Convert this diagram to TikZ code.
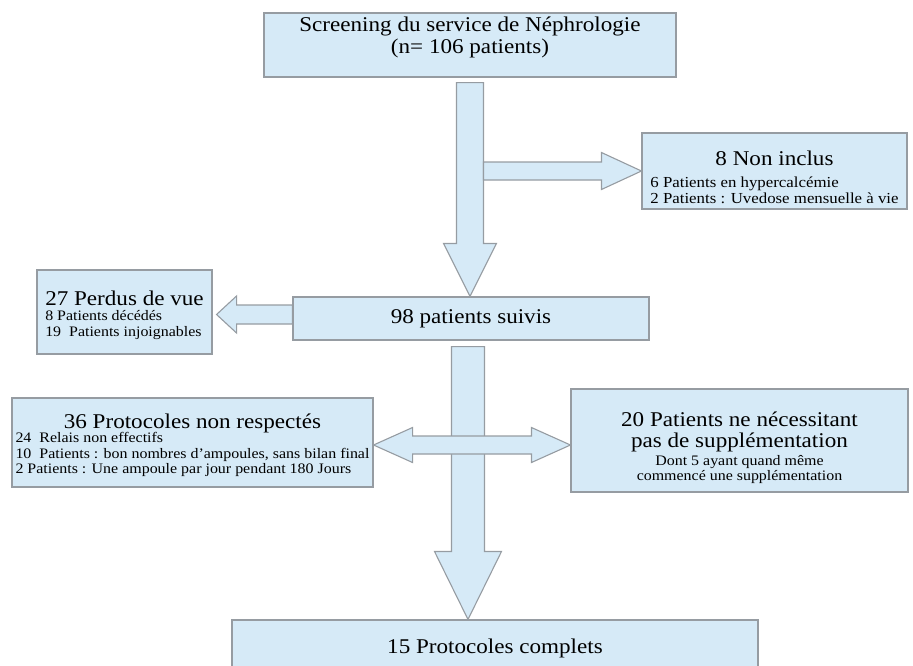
\documentclass[tikz,border=0pt]{standalone}
\usepackage{fontspec}
\setmainfont[FakeStretch=1.1]{Liberation Serif}
\definecolor{boxfill}{RGB}{214,234,247}
\definecolor{boxline}{RGB}{150,156,162}
\usetikzlibrary{calc}
\newcommand{\boxtitlefont}{\fontsize{21}{23}\selectfont}
\newcommand{\boxnotefont}{\fontsize{14.5}{15.5}\selectfont}
% shift the text inside a box, keeping the box where it is
\newcommand{\textshift}[2]{\raisebox{#1}[\height][\depth]{#2}}
% block arrows: start, tip, half shaft, half head, head length
\newcommand{\flowdown}[5]{%
  \draw[blockarrow] ($(#1)+(-#3,0)$) -- ($(#2)+(-#3,-#5)$) -- ($(#2)+(-#4,-#5)$) -- (#2)
    -- ($(#2)+(#4,-#5)$) -- ($(#2)+(#3,-#5)$) -- ($(#1)+(#3,0)$) -- cycle;}
\newcommand{\flowright}[5]{%
  \draw[blockarrow] ($(#1)+(0,-#3)$) -- ($(#2)+(-#5,-#3)$) -- ($(#2)+(-#5,-#4)$) -- (#2)
    -- ($(#2)+(-#5,#4)$) -- ($(#2)+(-#5,#3)$) -- ($(#1)+(0,#3)$) -- cycle;}
\newcommand{\flowleft}[5]{%
  \draw[blockarrow] ($(#1)+(0,-#3)$) -- ($(#2)+(#5,-#3)$) -- ($(#2)+(#5,-#4)$) -- (#2)
    -- ($(#2)+(#5,#4)$) -- ($(#2)+(#5,#3)$) -- ($(#1)+(0,#3)$) -- cycle;}
\newcommand{\flowboth}[5]{%
  \draw[blockarrow] (#1) -- ($(#1)+(#5,-#4)$) -- ($(#1)+(#5,-#3)$) -- ($(#2)+(-#5,-#3)$)
    -- ($(#2)+(-#5,-#4)$) -- (#2) -- ($(#2)+(-#5,#4)$) -- ($(#2)+(-#5,#3)$)
    -- ($(#1)+(#5,#3)$) -- ($(#1)+(#5,#4)$) -- cycle;}
\begin{document}
\begin{tikzpicture}[x=1pt,y=-1pt,
    flowbox/.style={draw=boxline,fill=boxfill,line width=1.1pt,inner sep=0pt},
    blockarrow/.style={draw=boxline,fill=boxfill,line width=1.1pt,line join=miter}
    ]
    \useasboundingbox (0,0) rectangle (913,665);

    % the boxes
    \node[flowbox,minimum width=412pt,minimum height=64pt,font=\boxtitlefont] (screen) at (470,45)
      {\textshift{7pt}{\begin{tabular}{@{}c@{}}Screening du service de Néphrologie\\[-1pt](n= 106 patients)\end{tabular}}};
    \node[flowbox,minimum width=265pt,minimum height=76pt,font=\fontsize{15.3}{16}\selectfont] (nonincl) at (774.5,171)
      {\textshift{-9pt}{\begin{tabular}{@{}l@{}}\multicolumn{1}{@{}c@{}}{\boxtitlefont 8 Non inclus}\\[6pt]
        6 Patients en hypercalcémie\\ 2 Patients : Uvedose mensuelle à vie\end{tabular}}};
    \node[flowbox,minimum width=356pt,minimum height=43pt,font=\boxtitlefont] (suivis) at (471,318.5)
      {98 patients suivis};
    \node[flowbox,minimum width=175pt,minimum height=84pt,font=\boxnotefont] (perdus) at (124.5,312)
      {\textshift{-4pt}{\begin{tabular}{@{}l@{}}{\boxtitlefont 27 Perdus de vue}\\
        8 Patients décédés\\ 19~ Patients injoignables\end{tabular}}};
    \node[flowbox,minimum width=361pt,minimum height=89pt,font=\boxnotefont] (nonresp) at (192.5,442.5)
      {\textshift{-4pt}{\begin{tabular}{@{}l@{}}\multicolumn{1}{@{}c@{}}{\boxtitlefont 36 Protocoles non respectés}\\[-1.5pt]
        24~ Relais non effectifs\\ 10~ Patients : bon nombres d'ampoules, sans bilan final\\
        2 Patients : Une ampoule par jour pendant 180 Jours\end{tabular}}};
    \node[flowbox,minimum width=337pt,minimum height=103pt,font=\boxnotefont] (nonsuppl) at (739.5,440.5)
      {\textshift{-8pt}{\begin{tabular}{@{}c@{}}{\boxtitlefont 20 Patients ne nécessitant}\\[2pt]
        {\boxtitlefont pas de supplémentation}\\[2pt]
        Dont 5 ayant quand même\\ commencé une supplémentation\end{tabular}}};
    \node[flowbox,minimum width=526pt,minimum height=56pt,font=\boxtitlefont] (complets) at (495,648)
      {15 Protocoles complets};

    % the arrow ends
    \coordinate (d1s) at ([yshift=-5pt]screen.south);
    \coordinate (d1e) at (screen.south |- suivis.north);
    \coordinate (r1s) at ($(d1s)+(13.5,0)$);
    \coordinate (r1a) at (r1s |- nonincl.west);
    \coordinate (l1e) at ($(perdus.east |- suivis.west)+(4,-4)$);
    \coordinate (l1s) at (suivis.west |- l1e);
    \coordinate (d2s) at ($(suivis.south)+(-3,6)$);
    \coordinate (d2e) at (d2s |- complets.north);
    \coordinate (bl) at ($(nonresp.east)+(0,2.5)$);
    \coordinate (br) at (nonsuppl.west |- bl);

    % the arrows
    \flowdown{d1s}{d1e}{13.5}{26.5}{53}
    \flowright{r1a}{nonincl.west}{9}{18.5}{40}
    \flowleft{l1s}{l1e}{9.5}{18.5}{20}
    \flowdown{d2s}{d2e}{16.5}{33.5}{68}
    \flowboth{bl}{br}{9}{17.5}{39}
\end{tikzpicture}
\end{document}
